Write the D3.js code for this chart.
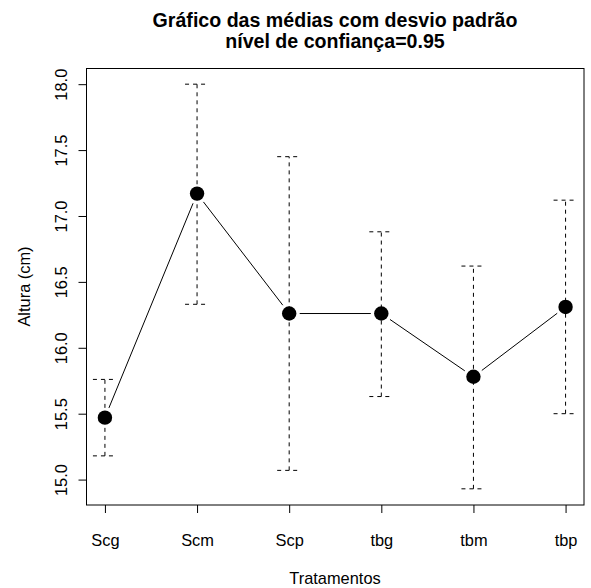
<!DOCTYPE html>
<html>
<head>
<meta charset="utf-8">
<script src="https://cdn.jsdelivr.net/npm/d3@7"></script>
<style>
  body { margin: 0; background: #fff; }
  text { font-family: "Liberation Sans", Arial, Helvetica, sans-serif; fill: #000; }
</style>
</head>
<body>
<svg id="chart"></svg>
<script>
const categories = ["Scg", "Scm", "Scp", "tbg", "tbm", "tbp"];
const means = [15.47, 17.17, 16.26, 16.26, 15.78, 16.31];
const lower = [15.18, 16.33, 15.07, 15.63, 14.93, 15.50];
const upper = [15.76, 18.00, 17.45, 16.88, 16.62, 17.12];
const yTicks = [15.0, 15.5, 16.0, 16.5, 17.0, 17.5, 18.0];

const width = 591;
const height = 588;
const margin = { top: 68, right: 7, bottom: 83, left: 86 };
const fs = 16.4;

const svg = d3.select("#chart").attr("width", width).attr("height", height);

const rows = categories.map((c, i) => ({ c, m: means[i], lo: lower[i], hi: upper[i] }));

// x: categorias, com folga de 4% como no R
const x = d3
  .scalePoint()
  .domain(categories)
  .range([margin.left + 0.5, width - margin.right])
  .padding(0.2);

// y: extensão dos limites + 4%
const yMin = d3.min(lower), yMax = d3.max(upper);
const pad = (yMax - yMin) * 0.04;
const y = d3
  .scaleLinear()
  .domain([yMin - pad, yMax + pad])
  .range([height - margin.bottom, margin.top]);

// eixo x
const gx = svg
  .append("g")
  .attr("transform", `translate(0,${height - margin.bottom})`)
  .call(d3.axisBottom(x).tickSize(8))
  .attr("font-size", fs)
  .attr("font-family", null);
gx.select(".domain").remove();
gx.selectAll("text").attr("y", 41).attr("dy", 0);

// eixo y (rótulos girados)
const gy = svg
  .append("g")
  .attr("transform", `translate(${margin.left + 0.5},0)`)
  .call(d3.axisLeft(y).tickValues(yTicks).tickFormat(d3.format(".1f")).tickSize(8))
  .attr("font-size", fs)
  .attr("font-family", null);
gy.select(".domain").remove();
gy.selectAll("text")
  .attr("transform", "rotate(-90)")
  .attr("x", 0)
  .attr("y", -20)
  .attr("dy", 0)
  .attr("text-anchor", "middle");

// caixa
svg
  .append("rect")
  .attr("x", margin.left + 0.5)
  .attr("y", margin.top + 0.5)
  .attr("width", width - margin.left - margin.right - 0.5)
  .attr("height", height - margin.top - margin.bottom - 0.5)
  .attr("fill", "none")
  .attr("stroke", "#000");

// barras de erro (tracejadas)
const cap = 12;
const bars = svg.append("g").attr("stroke", "#000").attr("stroke-dasharray", "4,4").attr("fill", "none");
bars
  .selectAll("line.v")
  .data(rows)
  .join("line")
  .attr("class", "v")
  .attr("x1", (d) => x(d.c))
  .attr("x2", (d) => x(d.c))
  .attr("y1", (d) => y(d.lo))
  .attr("y2", (d) => y(d.hi));
["lo", "hi"].forEach((k) => {
  bars
    .selectAll(`line.${k}`)
    .data(rows)
    .join("line")
    .attr("class", k)
    .attr("x1", (d) => x(d.c) - cap)
    .attr("x2", (d) => x(d.c) + cap)
    .attr("y1", (d) => y(d[k]))
    .attr("y2", (d) => y(d[k]));
});

// linha entre médias (tipo "b": com folga em torno dos pontos)
const gap = 10.5;
const segs = d3.pairs(rows).map(([a, b]) => {
  const x1 = x(a.c), y1 = y(a.m), x2 = x(b.c), y2 = y(b.m);
  const len = Math.hypot(x2 - x1, y2 - y1);
  const ux = (x2 - x1) / len, uy = (y2 - y1) / len;
  return { x1: x1 + ux * gap, y1: y1 + uy * gap, x2: x2 - ux * gap, y2: y2 - uy * gap };
});
svg
  .append("g")
  .selectAll("line")
  .data(segs)
  .join("line")
  .attr("x1", (d) => d.x1)
  .attr("y1", (d) => d.y1)
  .attr("x2", (d) => d.x2)
  .attr("y2", (d) => d.y2)
  .attr("stroke", "#000");

// pontos
svg
  .append("g")
  .selectAll("circle")
  .data(rows)
  .join("circle")
  .attr("cx", (d) => x(d.c))
  .attr("cy", (d) => y(d.m))
  .attr("r", 7.2)
  .attr("fill", "#000");

// títulos
const cx = (margin.left + width - margin.right) / 2;
const title = svg.append("text").attr("text-anchor", "middle").attr("font-weight", "bold").attr("font-size", 19.6);
title.append("tspan").attr("x", cx).attr("y", 27).text("Gráfico das médias com desvio padrão");
title.append("tspan").attr("x", cx).attr("y", 48).text("nível de confiança=0.95");

svg
  .append("text")
  .attr("x", cx)
  .attr("y", 584)
  .attr("text-anchor", "middle")
  .attr("font-size", fs)
  .text("Tratamentos");

svg
  .append("text")
  .attr("transform", `translate(30,${(margin.top + height - margin.bottom) / 2}) rotate(-90)`)
  .attr("text-anchor", "middle")
  .attr("font-size", fs)
  .text("Altura (cm)");
</script>
</body>
</html>
